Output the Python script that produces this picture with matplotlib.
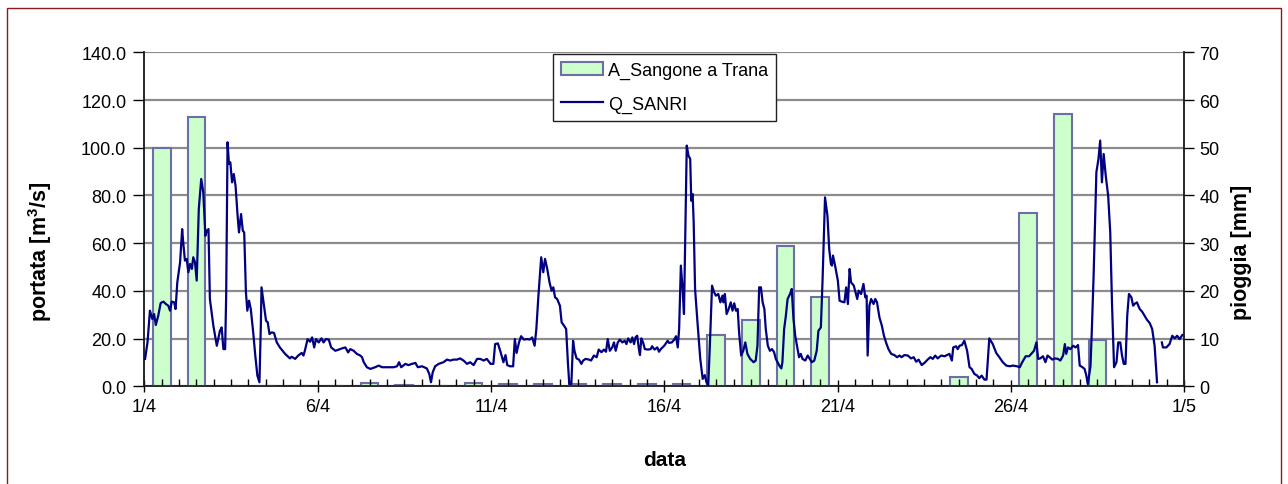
import numpy as np
import matplotlib
matplotlib.use("Agg")
import matplotlib.pyplot as plt
from matplotlib.patches import Rectangle

plt.rcParams["font.family"] = ["Liberation Sans", "DejaVu Sans"]
plt.rcParams["mathtext.default"] = "regular"

# x axis: days since 1/4
DAY_TICKS = [0, 5, 10, 15, 20, 25, 30]
DAY_LABELS = ["1/4", "6/4", "11/4", "16/4", "21/4", "26/4", "1/5"]

# daily rainfall [mm], 1/4 ... 30/4
RAIN_MM = [50.0, 56.4, 0, 0, 0, 0, 0.6, 0.35, 0, 0.8,
           0.5, 0.5, 0.5, 0.5, 0.5, 0.5, 10.8, 13.9, 29.5, 18.8,
           0, 0, 0, 2.0, 0, 36.3, 57.1, 9.8, 0, 0]

# discharge Q_SANRI [m3/s] (time in days since 1/4 00:00)
Q_DAY = [
    0.02, 0.09, 0.16, 0.23, 0.28, 0.33, 0.40, 0.47, 0.55, 0.62, 0.69, 0.74,
    0.79, 0.86, 0.90, 0.95, 1.03, 1.09, 1.12, 1.17, 1.22, 1.27, 1.32, 1.37,
    1.41, 1.46, 1.51, 1.57, 1.64, 1.70, 1.76, 1.80, 1.85, 1.89, 1.99, 2.09,
    2.13, 2.18, 2.23, 2.28, 2.33, 2.36, 2.40, 2.44, 2.48, 2.53, 2.58, 2.63,
    2.69, 2.73, 2.79, 2.84, 2.88, 2.93, 2.97, 3.02, 3.07, 3.14, 3.20, 3.26,
    3.32, 3.36, 3.38, 3.45, 3.51, 3.56, 3.61, 3.67, 3.74, 3.82, 3.91, 4.06,
    4.20, 4.25, 4.35, 4.44, 4.54, 4.59, 4.63, 4.71, 4.78, 4.84, 4.90,
    4.95, 5.03, 5.11, 5.17, 5.24, 5.32, 5.39, 5.51, 5.61, 5.70, 5.80, 5.88,
    5.94, 6.04, 6.13, 6.23, 6.28, 6.33, 6.42, 6.52, 6.66, 6.76, 6.86, 7.00,
    7.19, 7.29, 7.35, 7.41, 7.53, 7.62, 7.72, 7.82, 7.89, 8.01, 8.15, 8.22,
    8.27, 8.32, 8.39, 8.49, 8.63, 8.73, 8.83, 8.92, 9.02, 9.11, 9.21, 9.31,
    9.40, 9.50, 9.60, 9.69, 9.79, 9.88,
    9.99, 10.07, 10.12, 10.20, 10.28, 10.36, 10.42, 10.47, 10.55, 10.64,
    10.69, 10.74, 10.81, 10.87, 10.95, 11.05, 11.12, 11.19, 11.26, 11.31,
    11.37, 11.45, 11.51, 11.56, 11.625, 11.69, 11.75, 11.80, 11.85, 11.91,
    11.99, 12.04, 12.11, 12.17, 12.22, 12.26, 12.32, 12.37, 12.41, 12.47,
    12.54, 12.61, 12.66, 12.73, 12.83, 12.89, 12.97, 13.05, 13.11, 13.19,
    13.26, 13.32, 13.37, 13.43, 13.50, 13.55, 13.60, 13.66, 13.72, 13.79,
    13.86, 13.91, 13.96, 14.03, 14.08, 14.13, 14.17, 14.22, 14.27, 14.30,
    14.34, 14.39, 14.44, 14.53, 14.61, 14.65, 14.72, 14.80, 14.85,
    14.90, 15.00, 15.10, 15.14, 15.22, 15.29, 15.34, 15.39, 15.43, 15.48,
    15.53, 15.57, 15.61, 15.65, 15.70, 15.75, 15.78, 15.82, 15.85, 15.89,
    15.96, 16.04, 16.11, 16.17, 16.22, 16.27, 16.32, 16.38, 16.44, 16.49,
    16.56, 16.62, 16.68, 16.71, 16.75, 16.80, 16.86, 16.92, 16.97, 17.02,
    17.07, 17.12, 17.16, 17.22, 17.28, 17.34, 17.40, 17.48, 17.58, 17.64,
    17.69, 17.74, 17.79, 17.84, 17.89, 17.93, 17.99, 18.05, 18.11, 18.17,
    18.22, 18.27, 18.32, 18.38, 18.41, 18.46, 18.51, 18.56, 18.63, 18.68,
    18.73, 18.78, 18.85, 18.89, 18.94, 18.99, 19.07, 19.14, 19.20, 19.26,
    19.33, 19.40, 19.45, 19.52, 19.57, 19.64, 19.71, 19.76, 19.81,
    19.84, 19.87, 19.93, 20.01, 20.06, 20.12, 20.20, 20.25, 20.30, 20.35,
    20.39, 20.47, 20.52, 20.57, 20.61, 20.68, 20.75, 20.80, 20.84, 20.87,
    20.92, 20.97, 21.04, 21.09, 21.14, 21.21, 21.28, 21.34, 21.40, 21.47,
    21.55, 21.64, 21.72, 21.79, 21.85, 21.93, 22.03, 22.12, 22.20, 22.27,
    22.34, 22.43, 22.53, 22.60, 22.68, 22.75, 22.82, 22.89, 22.99, 23.09,
    23.16, 23.23, 23.30, 23.34, 23.42, 23.47, 23.52, 23.59, 23.66, 23.74,
    23.81, 23.87, 23.95, 24.03, 24.09, 24.16, 24.24, 24.30, 24.38, 24.48,
    24.58, 24.67, 24.77,
    24.87, 24.97, 25.06, 25.18, 25.26, 25.33, 25.43, 25.53, 25.59, 25.67,
    25.74, 25.79, 25.85, 25.93, 26.00, 26.06, 26.12, 26.20, 26.27, 26.36,
    26.43, 26.51, 26.56, 26.60, 26.65, 26.72, 26.80, 26.87, 26.94, 26.99,
    27.07, 27.13, 27.18, 27.22, 27.26, 27.30, 27.34, 27.39, 27.47, 27.53,
    27.58, 27.63, 27.68, 27.74, 27.81, 27.87, 27.92, 27.98, 28.05, 28.10,
    28.16, 28.21, 28.26, 28.31, 28.36, 28.41, 28.48, 28.53, 28.57, 28.64,
    28.72, 28.79, 28.86, 28.93, 29.01, 29.08, 29.15, 29.22, 29.29,
    29.36, 29.39, 29.49, 29.58, 29.66, 29.73, 29.80, 29.87, 29.95,
]
Q_FLOW = [
    11.5, 18.4, 31.7, 28.2, 30.3, 25.7, 29.6, 34.9, 35.5, 34.5, 33.8, 31.7,
    35.5, 35.2, 32.4, 43.6, 52.0, 65.9, 60.4, 52.7, 53.4, 47.8, 51.3, 49.2,
    54.1, 52.0, 44.3, 74.3, 86.9, 81.3, 63.1, 65.2, 65.9, 36.6, 25.4, 17.0,
    19.8, 23.3, 24.7, 15.6, 15.6, 38.0, 102.3, 93.2, 93.9, 85.5, 89.0, 84.1,
    71.5, 64.5, 72.2, 65.2, 64.5, 39.4, 31.7, 35.9, 32.4, 22.6, 12.9, 4.5,
    1.7, 25.4, 41.5, 33.8, 27.5, 26.8, 21.9, 22.6, 22.4, 18.4, 16.3, 13.6,
    11.7, 12.4, 11.5, 12.9, 14.0, 12.9, 14.9, 19.8, 18.7, 20.5, 16.3,
    19.8, 18.4, 20.1, 18.4, 19.8, 19.6, 16.3, 14.9, 15.4, 15.9, 16.3, 14.2,
    15.6, 14.9, 13.6, 12.9, 12.2, 10.1, 8.0, 7.3, 8.0, 8.7, 8.0, 8.0,
    8.0, 8.4, 10.1, 8.0, 9.4, 8.9, 9.4, 9.8, 8.0, 8.4, 7.5, 5.2,
    1.7, 5.9, 8.4, 9.4, 10.1, 11.2, 10.8, 11.2, 11.2, 11.7, 10.8, 9.4,
    10.1, 8.9, 11.5, 11.5, 10.8, 11.5,
    9.4, 9.4, 17.7, 18.0, 14.3, 10.1, 13.1, 8.9, 8.4, 8.4,
    19.8, 14.0, 18.4, 21.0, 19.6, 19.8, 19.6, 20.5, 17.0, 24.0,
    38.0, 54.1, 47.8, 53.4, 49.2, 43.6, 40.1, 41.5, 37.3, 36.6,
    33.8, 26.8, 25.4, 24.0, 10.1, 1.0, 1.0, 19.1, 14.9, 11.7,
    11.2, 9.4, 10.8, 11.5, 11.2, 10.8, 12.9, 12.2, 15.4, 14.3,
    15.4, 14.5, 19.8, 14.9, 16.3, 18.4, 14.9, 18.4, 19.6, 18.4,
    19.1, 17.7, 20.1, 18.4, 20.5, 17.7, 20.5, 21.2, 15.6, 13.1,
    20.1, 18.4, 15.6, 15.4, 15.6, 16.8, 15.4, 16.3, 14.5,
    15.6, 17.0, 19.1, 18.2, 18.4, 19.6, 21.0, 16.3, 24.0, 50.6,
    40.8, 30.3, 65.9, 100.9, 96.7, 95.3, 77.8, 80.6, 68.7, 40.8,
    26.8, 11.5, 3.1, 4.7, 1.7, 0.3, 18.4, 42.2, 39.4, 38.0,
    38.7, 35.2, 38.0, 35.2, 38.7, 30.3, 32.4, 35.2, 31.7, 34.8,
    31.7, 32.4, 22.6, 12.9, 14.9, 18.4, 13.6, 11.5, 10.1, 10.8,
    17.0, 41.5, 41.5, 35.2, 32.4, 24.0, 17.0, 14.9, 15.6, 14.3,
    11.5, 10.1, 8.7, 7.5, 10.1, 24.0, 29.6, 36.6, 38.7, 40.8,
    28.2, 21.2, 15.6, 12.2, 13.6, 11.5, 10.8, 12.9, 11.5, 10.1,
    10.8, 14.9, 23.3, 24.7, 45.0, 79.2, 71.5, 57.6, 51.3,
    50.6, 54.8, 50.6, 44.3, 35.9, 35.5, 35.2, 41.5, 34.5, 49.2,
    43.6, 42.2, 39.4, 36.6, 40.1, 38.7, 42.9, 37.3, 38.0, 12.9,
    33.8, 36.6, 34.5, 36.6, 35.2, 28.9, 25.4, 21.2, 18.4, 15.6,
    13.6, 13.1, 12.2, 12.9, 12.2, 13.1, 12.9, 11.7, 12.2, 10.3,
    11.2, 8.9, 10.1, 11.2, 12.2, 11.5, 12.9, 11.7, 12.9, 12.6,
    13.1, 13.6, 10.8, 16.3, 16.8, 15.6, 17.0, 17.3, 19.1, 14.9,
    8.0, 7.3, 5.2, 4.5, 3.4, 4.5, 2.8, 2.8, 20.1, 17.7,
    14.0, 12.2, 10.1,
    8.7, 8.4, 8.7, 8.4, 8.0, 10.1, 12.6, 12.6, 13.6, 14.9,
    18.4, 11.5, 11.7, 12.6, 10.1, 12.9, 12.2, 11.2, 11.7, 11.5,
    10.8, 12.9, 17.7, 13.6, 16.3, 15.6, 17.0, 16.3, 17.3, 8.7,
    8.0, 7.3, 4.5, 1.0, 4.5, 8.4, 24.0, 46.4, 89.7, 95.3,
    103.0, 85.5, 97.4, 88.3, 79.9, 64.5, 35.2, 8.0, 10.1, 18.4,
    18.4, 12.9, 9.4, 9.4, 29.6, 38.7, 37.3, 33.8, 34.5, 35.2,
    32.4, 31.3, 29.6, 27.9, 26.5, 24.0, 17.0, 1.7, np.nan,
    18.4, 16.3, 16.3, 17.7, 21.2, 20.1, 21.2, 19.8, 21.5,
]

BAR_FACE = "#CCFFCC"
BAR_EDGE = "#6E6EA6"
LINE_COL = "#000080"
GRID_COL = "#8C8C8C"

fig = plt.figure(figsize=(12.88, 4.85), dpi=100)
fig.patch.set_facecolor("white")
ax = fig.add_axes([0.1121, 0.2014, 0.8072, 0.6887])
ax_r = ax.twinx()
ax.set_zorder(ax_r.get_zorder() + 1)
ax.patch.set_visible(False)

# rainfall bars on the secondary (right) axis, centred on each day
bar_x = np.arange(len(RAIN_MM)) + 0.5
bars = ax_r.bar(bar_x, RAIN_MM, width=0.51, color=BAR_FACE,
                edgecolor=BAR_EDGE, linewidth=1.5, zorder=3)
ax_r.set_ylim(0, 70)
ax_r.set_yticks(range(0, 71, 10))
ax_r.yaxis.grid(True, color=GRID_COL, lw=1.6)
ax_r.set_axisbelow(True)

# discharge line on the primary (left) axis
line, = ax.plot(Q_DAY, Q_FLOW, color=LINE_COL, lw=1.6, zorder=4)
ax.set_xlim(0, 30)
ax.set_ylim(0, 140)
ax.set_yticks(np.arange(0, 141, 20))
ax.set_yticklabels([f"{v:.1f}" for v in np.arange(0, 141, 20)])
ax.set_xticks(DAY_TICKS)
ax.set_xticklabels(DAY_LABELS)
ax.set_xticks(np.arange(0, 30.01, 0.5), minor=True)

for a in (ax, ax_r):
    a.spines["top"].set_visible(False)
    for s in ("left", "right", "bottom"):
        a.spines[s].set_color("#202020")
        a.spines[s].set_linewidth(1.1)

ax.tick_params(axis="y", direction="out", length=8, width=1,
               labelsize=13, pad=5)
ax.tick_params(axis="x", which="major", direction="inout", length=9,
               width=1, labelsize=13, pad=4)
ax.tick_params(axis="x", which="minor", direction="in", length=5, width=1)
ax_r.tick_params(axis="y", direction="out", length=7, width=1,
                 labelsize=13, pad=4)

ax.set_ylabel("portata [m$^3$/s]", fontsize=15.5, fontweight="bold")
ax.yaxis.set_label_coords(-0.087, 0.405)
ax_r.set_ylabel("pioggia [mm]", fontsize=15.5, fontweight="bold",
                rotation=90)
ax_r.yaxis.set_label_coords(1.045, 0.405)
ax.set_xlabel("data", fontsize=15, fontweight="bold")
ax.xaxis.set_label_coords(0.5, -0.192)

leg = ax.legend([bars, line], ["A_Sangone a Trana", "Q_SANRI"],
                loc="upper left", bbox_to_anchor=(0.393, 0.995),
                borderaxespad=0, fancybox=False, framealpha=1,
                edgecolor="#202020", fontsize=13, handlelength=2.3,
                handletextpad=0.3, borderpad=0.45, labelspacing=0.9)
leg.get_frame().set_linewidth(1.0)

# outer chart-area border
fig.add_artist(Rectangle((7 / 1288, -0.1), (1281 - 7) / 1288,
                         (485 - 9) / 485 + 0.1, transform=fig.transFigure,
                         fill=False, edgecolor="#8B1A1A", lw=1.0))

fig.savefig("out.png", dpi=100)
